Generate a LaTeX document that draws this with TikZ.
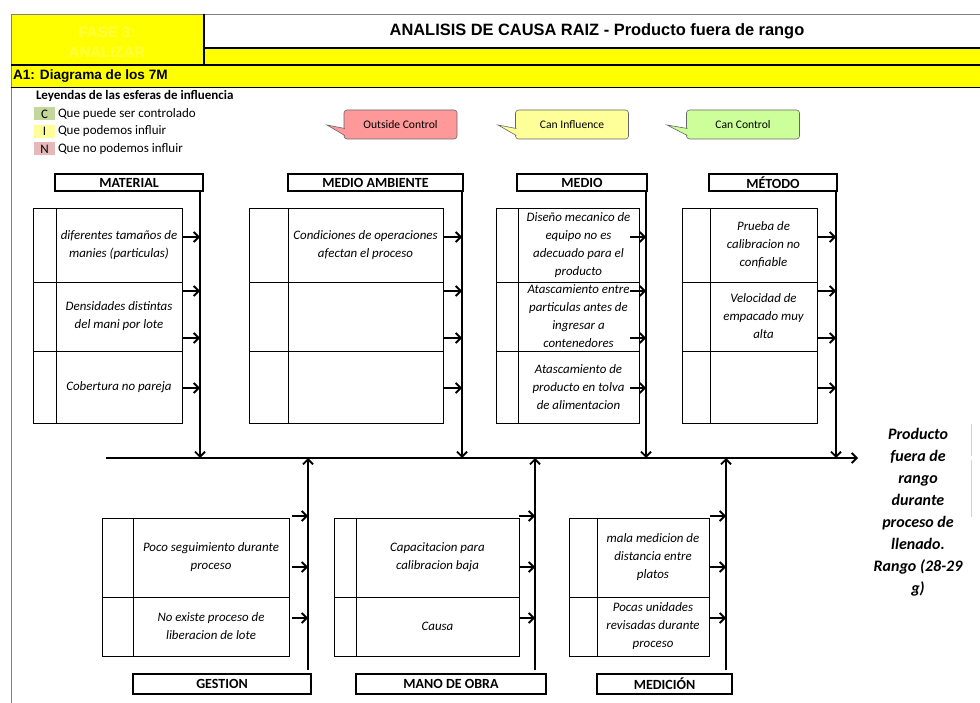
\documentclass[tikz,border=0pt]{standalone}
\usepackage{fontspec}
\setmainfont{Carlito}[
  UprightFont={Carlito},
  BoldFont={Carlito Bold},
  ItalicFont={Carlito Italic},
  BoldItalicFont={Carlito Bold Italic}]
\newfontfamily\headfont{Liberation Sans}
\usetikzlibrary{arrows.meta,calc}

\definecolor{hdryellow}{HTML}{FFFF00}
\definecolor{fadeyellow}{HTML}{FFFF40}
\definecolor{legC}{HTML}{C4D79B}
\definecolor{legI}{HTML}{FFFF99}
\definecolor{legN}{HTML}{E6B8B7}
\definecolor{outfill}{HTML}{FF9999}
\definecolor{inffill}{HTML}{FFFF99}
\definecolor{ctlfill}{HTML}{CCFF99}
\definecolor{gridgray}{HTML}{808080}

% one cell of a cause table: name, x1, y1, x2, y2, text
\newcommand\fbcell[6]{%
  \pgfmathsetmacro\fbwd{#4-#2}\pgfmathsetmacro\fbht{#5-#3}%
  \node[cell, minimum width=\fbwd pt, minimum height=\fbht pt, anchor=north west] (#1) at (#2,#3) {#6};}

\begin{document}
\begin{tikzpicture}[x=1pt,y=-1pt,
  every node/.style={inner sep=0pt, outer sep=0pt},
  cell/.style={draw, line width=0.8pt, align=center,
    font=\fontsize{12.9}{18}\selectfont\itshape},
  catbox/.style={draw, line width=1.4pt, fill=white, anchor=north west,
    font=\fontsize{14}{16}\selectfont\bfseries},
  spine/.style={line width=1.8pt, -{Straight Barb[length=5pt,width=10pt,line width=1.8pt]}},
  causearrow/.style={line width=1.8pt, -{Straight Barb[length=5pt,width=10pt,line width=1.8pt]}},
  callbox/.style={draw=black!60, line width=0.6pt, rounded corners=3pt,
    minimum width=113pt, minimum height=29pt, font=\fontsize{11.6}{13}\selectfont},
  legbox/.style={minimum width=21pt, minimum height=13pt, font=\fontsize{13}{14}\selectfont},
  legtext/.style={anchor=west, font=\fontsize{13}{14}\selectfont},
]
\useasboundingbox (0,0) rectangle (980,703);
\fill[white] (0,0) rectangle (980,703);

% ---------- header ----------
\fill[hdryellow] (11,14) rectangle (980,87);
\fill[white] (204,14) rectangle (980,48);
\draw[gridgray, line width=0.8pt] (11,14) -- (980,14);
\draw[gridgray, line width=0.8pt] (11,14) -- (11,703);
\draw[line width=2pt] (204,14) -- (204,65);
\draw[line width=1.3pt] (204,48) -- (980,48);
\draw[line width=1.3pt] (11,65) -- (980,65);
\draw[line width=0.8pt] (11,87) -- (980,87);
\node[font=\headfont\fontsize{15}{20}\selectfont\bfseries, text=fadeyellow, align=center]
  (fase) at (107,42) {FASE 3:\\ANALIZAR};
\node[font=\headfont\fontsize{16.4}{18}\selectfont\bfseries] (title) at (597,31)
  {ANALISIS DE CAUSA RAIZ - Producto fuera de rango};
\node[font=\headfont\fontsize{13.6}{15}\selectfont\bfseries, anchor=west] (a1) at (13,76)
  {A1: Diagrama de los 7M};

% ---------- legend ----------
\node[anchor=west, font=\fontsize{13}{14}\selectfont\bfseries] (leghead) at (36,96)
  {Leyendas de las esferas de influencia};
\node[legbox, fill=legC] (legc) at (44.5,114) {C};
\node[legbox, fill=legI] (legi) at (44.5,131.5) {I};
\node[legbox, fill=legN] (legn) at (44.5,149) {N};
\node[legtext] (legct) at (58,114) {Que puede ser controlado};
\node[legtext] (legit) at (58,131.5) {Que podemos influir};
\node[legtext] (legnt) at (58,149) {Que no podemos influir};

% ---------- callouts ----------
\node[callbox, fill=outfill] (outc) at (400.5,124.5) {Outside Control};
\node[callbox, fill=inffill] (infc) at (572,124.5) {Can Influence};
\node[callbox, fill=ctlfill] (ctlc) at (743,124.5) {Can Control};
\coordinate (outtip) at (327,125);
\coordinate (inftip) at (498,125);
\coordinate (ctltip) at (667,125);
\draw[draw=black!60, fill=outfill, line width=0.6pt]
  ($(outc.west)+(0.8,4)$) -- (outtip) -- ($(outc.west)+(0.8,11)$);
\draw[draw=black!60, fill=inffill, line width=0.6pt]
  ($(infc.west)+(0.8,4)$) -- (inftip) -- ($(infc.west)+(0.8,11)$);
\draw[draw=black!60, fill=ctlfill, line width=0.6pt]
  ($(ctlc.west)+(0.8,4)$) -- (ctltip) -- ($(ctlc.west)+(0.8,11)$);

% ---------- main bone ----------
\coordinate (tail) at (106,458);
\coordinate (head) at (858,458);
\draw[spine] (tail) -- (head);
\node[font=\fontsize{16}{22}\selectfont\bfseries\itshape, align=center] (effect) at (918,512)
  {Producto\\fuera de\\rango\\durante\\proceso de\\llenado.\\Rango (28-29\\g)};
\draw[gray!35, line width=0.8pt] (971,424) -- (971,456);
\draw[gray!35, line width=0.8pt] (971,460) -- (971,517);

% ---------- MATERIAL ----------
\node[catbox, minimum width=148pt, minimum height=17pt] (matlab) at (55,174) {MATERIAL};
\fbcell{matL1}{33}{208}{56}{282}{}
\fbcell{matL2}{33}{282}{56}{351}{}
\fbcell{matL3}{33}{351}{56}{423}{}
\fbcell{mat1}{56}{208}{182}{282}{diferentes tamaños de\\manies (particulas)}
\fbcell{mat2}{56}{282}{182}{351}{Densidades distintas\\del mani por lote}
\fbcell{mat3}{56}{351}{182}{423}{Cobertura no pareja}
\coordinate (matS) at (200,191);
\coordinate (matE) at (200,458);
\draw[spine] (matS) -- (matE);
\foreach \yy [count=\i] in {237,291,338,388}{
  \coordinate (matA\i) at (200,\yy);
  \draw[causearrow] ($(matA\i)+(-18,0)$) -- (matA\i);}

% ---------- MEDIO AMBIENTE ----------
\node[catbox, minimum width=175pt, minimum height=17pt] (amblab) at (288,174) {MEDIO AMBIENTE};
\fbcell{ambL1}{249}{208}{288}{282}{}
\fbcell{ambL2}{249}{282}{288}{351}{}
\fbcell{ambL3}{249}{351}{288}{423}{}
\fbcell{amb1}{288}{208}{443}{282}{Condiciones de operaciones\\afectan el proceso}
\fbcell{amb2}{288}{282}{443}{351}{}
\fbcell{amb3}{288}{351}{443}{423}{}
\coordinate (ambS) at (462,191);
\coordinate (ambE) at (462,458);
\draw[spine] (ambS) -- (ambE);
\foreach \yy [count=\i] in {237,291,338,388}{
  \coordinate (ambA\i) at (462,\yy);
  \draw[causearrow] ($(ambA\i)+(-18,0)$) -- (ambA\i);}

% ---------- MEDIO ----------
\node[catbox, minimum width=130pt, minimum height=17pt] (medlab) at (517,174) {MEDIO};
\fbcell{medL1}{496}{208}{518}{282}{}
\fbcell{medL2}{496}{282}{518}{351}{}
\fbcell{medL3}{496}{351}{518}{423}{}
\fbcell{med1}{518}{208}{639}{282}{Diseño mecanico de\\equipo no es\\adecuado para el\\producto}
\fbcell{med2}{518}{282}{639}{351}{Atascamiento entre\\particulas antes de\\ingresar a\\contenedores}
\fbcell{med3}{518}{351}{639}{423}{Atascamiento de\\producto en tolva\\de alimentacion}
\coordinate (medS) at (646,191);
\coordinate (medE) at (646,458);
\draw[spine] (medS) -- (medE);
\foreach \yy [count=\i] in {237,291,338,388}{
  \coordinate (medA\i) at (646,\yy);
  \draw[causearrow] ($(medA\i)+(-16,0)$) -- (medA\i);}

% ---------- MÉTODO ----------
\node[catbox, minimum width=128pt, minimum height=17pt] (metlab) at (709,174) {MÉTODO};
\fbcell{metL1}{682}{208}{710}{282}{}
\fbcell{metL2}{682}{282}{710}{351}{}
\fbcell{metL3}{682}{351}{710}{423}{}
\fbcell{met1}{710}{208}{817}{282}{Prueba de\\calibracion no\\confiable}
\fbcell{met2}{710}{282}{817}{351}{Velocidad de\\empacado muy\\alta}
\fbcell{met3}{710}{351}{817}{423}{}
\coordinate (metS) at (836,191);
\coordinate (metE) at (836,458);
\draw[spine] (metS) -- (metE);
\foreach \yy [count=\i] in {237,291,338,388}{
  \coordinate (metA\i) at (836,\yy);
  \draw[causearrow] ($(metA\i)+(-18,0)$) -- (metA\i);}

% ---------- GESTION ----------
\node[catbox, minimum width=178pt, minimum height=20pt] (geslab) at (133,674) {GESTION};
\fbcell{gesL1}{102}{518}{133}{597}{}
\fbcell{gesL2}{102}{597}{133}{656}{}
\fbcell{ges1}{133}{518}{289}{597}{Poco seguimiento durante\\proceso}
\fbcell{ges2}{133}{597}{289}{656}{No existe proceso de\\liberacion de lote}
\coordinate (gesS) at (308,670);
\coordinate (gesE) at (308,458);
\draw[spine] (gesS) -- (gesE);
\foreach \yy [count=\i] in {516,567,618}{
  \coordinate (gesA\i) at (308,\yy);
  \draw[causearrow] ($(gesA\i)+(-16,0)$) -- (gesA\i);}

% ---------- MANO DE OBRA ----------
\node[catbox, minimum width=190pt, minimum height=20pt] (manlab) at (356,674) {MANO DE OBRA};
\fbcell{manL1}{334}{518}{356}{597}{}
\fbcell{manL2}{334}{597}{356}{656}{}
\fbcell{man1}{356}{518}{519}{597}{Capacitacion para\\calibracion baja}
\fbcell{man2}{356}{597}{519}{656}{Causa}
\coordinate (manS) at (535,670);
\coordinate (manE) at (535,458);
\draw[spine] (manS) -- (manE);
\foreach \yy [count=\i] in {516,567,618}{
  \coordinate (manA\i) at (535,\yy);
  \draw[causearrow] ($(manA\i)+(-16,0)$) -- (manA\i);}

% ---------- MEDICIÓN ----------
\node[catbox, minimum width=135pt, minimum height=20pt] (mcnlab) at (597,674) {MEDICIÓN};
\fbcell{mcnL1}{569}{518}{597}{597}{}
\fbcell{mcnL2}{569}{597}{597}{656}{}
\fbcell{mcn1}{597}{518}{709}{597}{mala medicion de\\distancia entre\\platos}
\fbcell{mcn2}{597}{597}{709}{656}{Pocas unidades\\revisadas durante\\proceso}
\coordinate (mcnS) at (726,670);
\coordinate (mcnE) at (726,458);
\draw[spine] (mcnS) -- (mcnE);
\foreach \yy [count=\i] in {516,567,618}{
  \coordinate (mcnA\i) at (726,\yy);
  \draw[causearrow] ($(mcnA\i)+(-16,0)$) -- (mcnA\i);}
\end{tikzpicture}
\end{document}
